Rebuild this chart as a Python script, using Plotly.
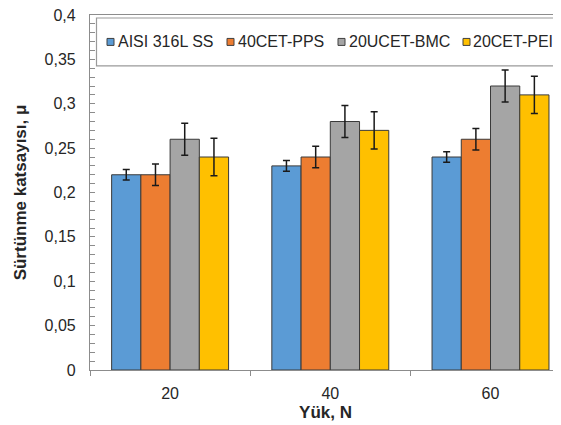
import plotly.graph_objects as go

categories = ["20", "40", "60"]
series_names = ["AISI 316L SS", "40CET-PPS", "20UCET-BMC", "20CET-PEI"]
aisi_vals = [0.22, 0.23, 0.24]
pps_vals = [0.22, 0.24, 0.26]
bmc_vals = [0.26, 0.28, 0.32]
pei_vals = [0.24, 0.27, 0.31]
aisi_err = [0.006, 0.006, 0.006]
pps_err = [0.012, 0.012, 0.012]
bmc_err = [0.018, 0.018, 0.018]
pei_err = [0.021, 0.021, 0.021]
y_ticks = [0, 0.05, 0.1, 0.15, 0.2, 0.25, 0.3, 0.35, 0.4]
y_ticklabels = ["0", "0,05", "0,1", "0,15", "0,2", "0,25", "0,3", "0,35", "0,4"]

colors = ["#5B9BD5", "#ED7D31", "#A5A5A5", "#FFC000"]
values = [aisi_vals, pps_vals, bmc_vals, pei_vals]
errors = [aisi_err, pps_err, bmc_err, pei_err]

FONT = "Liberation Sans, Arial, sans-serif"
TXT = "#262626"

# figure geometry (page body has an 8px margin)
W, H = 553, 417
ML, MT, MB = 82, 6.5, 54.5
PW, PH = W - ML, H - MT - MB


def px_x(x):  # figure-pixel -> paper x
    return (x - ML) / PW


def px_y(y):  # figure-pixel -> paper y
    return 1 - (y - MT) / PH


fig = go.Figure()
for name, vals, errs, col in zip(series_names, values, errors, colors):
    fig.add_trace(go.Bar(
        x=categories, y=vals, name=name, showlegend=False,
        marker=dict(color=col, line=dict(color="#3a3a3a", width=1)),
        error_y=dict(type="data", array=errs, visible=True,
                     color="#1a1a1a", thickness=1.5, width=3.5),
    ))

# legend box + entries (drawn as shapes and text annotations)
shapes = [dict(
    type="rect", xref="paper", yref="paper",
    x0=px_x(88.5), x1=1.2, y0=px_y(57.5), y1=px_y(9.5),
    line=dict(color="#9a9a9a", width=1.2), fillcolor="white", layer="below",
)]
annotations = []
legend_swatch_x = [99, 219, 330, 455]
legend_text_x = [108, 228, 339, 463]
legend_cy = 33.5
for name, col, sx, tx in zip(series_names, colors, legend_swatch_x, legend_text_x):
    shapes.append(dict(
        type="rect", xref="paper", yref="paper",
        x0=px_x(sx), x1=px_x(sx + 7), y0=px_y(legend_cy + 3.5), y1=px_y(legend_cy - 3.5),
        line=dict(color="#404040", width=1), fillcolor=col, layer="above",
    ))
    annotations.append(dict(
        text=name, xref="paper", yref="paper", x=px_x(tx), y=px_y(legend_cy),
        xanchor="left", yanchor="middle", showarrow=False,
        font=dict(family=FONT, size=16, color=TXT),
    ))

fig.update_layout(
    width=W, height=H,
    margin=dict(l=ML, r=0, t=MT, b=MB, autoexpand=False),
    paper_bgcolor="white", plot_bgcolor="white",
    barmode="group", bargap=0.27, bargroupgap=0,
    font=dict(family=FONT, size=16, color=TXT),
    showlegend=False,
    shapes=shapes,
    annotations=annotations,
)

fig.update_xaxes(
    type="category", range=[-0.5, 2.44], automargin=False,
    showline=True, linecolor="#8c8c8c", linewidth=1.2, mirror=True,
    ticks="outside", tickson="boundaries", ticklen=5, tickcolor="#8c8c8c",
    showgrid=False, zeroline=False,
    ticklabelstandoff=9,
    tickfont=dict(family=FONT, size=16, color=TXT),
    title=dict(text="<b>Yük, N</b>", font=dict(family=FONT, size=17, color=TXT), standoff=4),
)
fig.update_yaxes(
    range=[0, 0.4], tickvals=y_ticks, ticktext=y_ticklabels, automargin=False,
    showline=True, linecolor="#8c8c8c", linewidth=1.2, mirror=False,
    ticks="inside", ticklen=5, tickcolor="#8c8c8c",
    minor=dict(dtick=0.01, ticks="inside", ticklen=5, tickcolor="#8c8c8c"),
    showgrid=False, zeroline=False,
    ticklabelstandoff=10, ticklabeloverflow="allow",
    tickfont=dict(family=FONT, size=16, color=TXT),
    title=dict(text="<b>Sürtünme katsayısı, μ</b>", font=dict(family=FONT, size=17, color=TXT), standoff=13),
)

fig.write_html("out.html")
